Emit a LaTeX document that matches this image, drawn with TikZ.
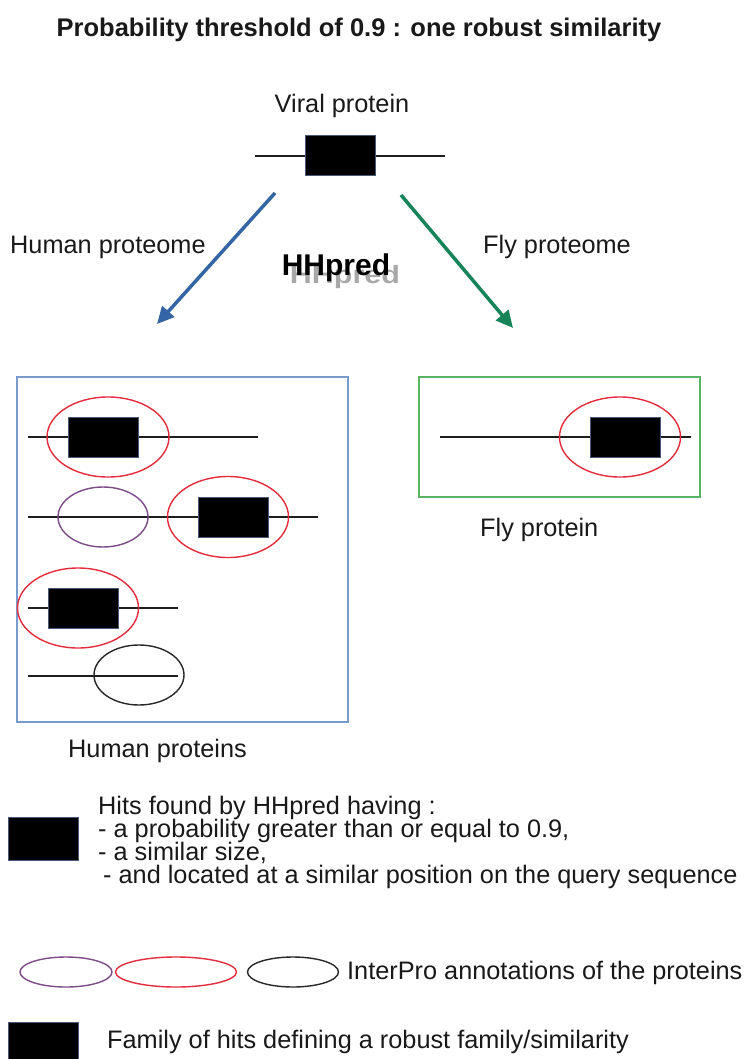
\documentclass[tikz,border=0pt]{standalone}
\usepackage{fontspec}
\usepackage{graphicx}
\setmainfont{Liberation Sans}
\usetikzlibrary{arrows.meta,shapes.geometric}
\definecolor{arrowblue}{RGB}{52,101,164}
\definecolor{arrowgreen}{RGB}{24,132,90}
\definecolor{hframe}{RGB}{120,155,205}
\definecolor{fframe}{RGB}{90,180,100}
\definecolor{ellred}{RGB}{228,45,60}
\definecolor{ellpurple}{RGB}{125,75,135}
\definecolor{ellblack}{RGB}{40,40,40}
\definecolor{hitborder}{RGB}{70,90,120}
\definecolor{seqcol}{RGB}{30,30,30}
\tikzset{
  txt/.style={font=\fontsize{25.3}{29}\selectfont, inner sep=0pt, text=black!90},
  hit/.style={draw=hitborder, fill=black, line width=1pt, minimum width=70pt, minimum height=40pt, inner sep=0pt},
  seq/.style={draw=seqcol, line width=1.4pt},
  ann/.style={ellipse, draw=#1, line width=1.4pt, inner sep=0pt},
  frame/.style={draw=#1, line width=1.3pt, inner sep=0pt},
  hharrow/.style={draw=#1, line width=3.5pt, -{Triangle[length=17pt,width=16pt]}},
}
\begin{document}
\begin{tikzpicture}[x=1pt,y=-1pt]
\useasboundingbox[fill=white] (0,0) rectangle (745,1059);

% title
\node[txt, font=\bfseries\fontsize{25.5}{30}\selectfont, anchor=base] (title) at (359,37) {Probability threshold of 0.9 : one robust similarity};

% viral protein
\node[txt, anchor=base] (vlabel) at (342,113) {Viral protein};
\coordinate (vl) at (255,156);
\coordinate (vr) at (445,156);
\draw[seq] (vl) -- (vr);
\node[hit] (vhit) at (340,156) {};

% arrows
\coordinate (ha) at (275,193);
\coordinate (hb) at (157,324);
\draw[hharrow=arrowblue] (ha) -- (hb);
\coordinate (fa) at (401,195);
\coordinate (fb) at (513,328);
\draw[hharrow=arrowgreen] (fa) -- (fb);

\node[txt, anchor=base west] (hprot) at (10,253) {Human proteome};
\node[txt, anchor=base west] (fprot) at (483,253) {Fly proteome};

% HHpred with shadow
\node[txt, anchor=base, text=gray!80, opacity=0.85, font=\bfseries\fontsize{25}{30}\selectfont] (hhshadow) at (345,283) {\scalebox{1.22}[1]{HHpred}};
\node[txt, anchor=base, text=black, font=\bfseries\fontsize{30}{34}\selectfont] (hh) at (336,275) {HHpred};

% human proteins frame
\node[frame=hframe, minimum width=331pt, minimum height=345pt] (hframe) at (182.5,549.5) {};
% row 1
\coordinate (r1a) at (28,437); \coordinate (r1b) at (258,437);
\draw[seq] (r1a) -- (r1b);
\node[ann=ellred, minimum width=122pt, minimum height=80pt] (r1e) at (108,437) {};
\node[hit] (r1h) at (103,437) {};
% row 2
\coordinate (r2a) at (28,517); \coordinate (r2b) at (318,517);
\draw[seq] (r2a) -- (r2b);
\node[ann=ellpurple, minimum width=90pt, minimum height=60pt] (r2p) at (103,517) {};
\node[ann=ellred, minimum width=121pt, minimum height=81pt] (r2e) at (228,517) {};
\node[hit] (r2h) at (233,517) {};
% row 3
\coordinate (r3a) at (28,608); \coordinate (r3b) at (178,608);
\draw[seq] (r3a) -- (r3b);
\node[ann=ellred, minimum width=121pt, minimum height=80pt] (r3e) at (78,608) {};
\node[hit] (r3h) at (83,608) {};
% row 4
\coordinate (r4a) at (28,676); \coordinate (r4b) at (178,676);
\draw[seq] (r4a) -- (r4b);
\node[ann=ellblack, minimum width=90pt, minimum height=60pt] (r4e) at (139,675) {};

\node[txt, anchor=base west] (hlabel) at (68,757) {Human proteins};

% fly frame
\node[frame=fframe, minimum width=281pt, minimum height=120pt] (fframe) at (559.5,437) {};
\coordinate (f1a) at (440,437); \coordinate (f1b) at (691,437);
\draw[seq] (f1a) -- (f1b);
\node[ann=ellred, minimum width=121pt, minimum height=80pt] (f1e) at (620,437) {};
\node[hit] (f1h) at (625,437) {};
\node[txt, anchor=base west] (flabel) at (480,536) {Fly protein};

% legend 1
\node[hit, minimum height=43pt] (lg1) at (43,838.5) {};
\node[txt, anchor=base west] (lt1) at (98,814) {Hits found by HHpred having :};
\node[txt, anchor=base west] (lt2) at (98,837) {- a probability greater than or equal to 0.9,};
\node[txt, anchor=base west] (lt3) at (98,860) {- a similar size,};
\node[txt, anchor=base west] (lt4) at (103,883) {- and located at a similar position on the query sequence};

% legend 2
\node[ann=ellpurple, minimum width=92pt, minimum height=30pt] (lgp) at (66,972) {};
\node[ann=ellred, minimum width=121pt, minimum height=30pt] (lgr) at (176,972) {};
\node[ann=ellblack, minimum width=91pt, minimum height=30pt] (lgb) at (293,972) {};
\node[txt, anchor=base west] (lt5) at (347,979) {InterPro annotations of the proteins};

% legend 3
\node[hit, minimum height=40pt] (lg3) at (43,1042) {};
\node[txt, anchor=base west] (lt6) at (107,1048) {Family of hits defining a robust family/similarity};
\end{tikzpicture}
\end{document}
